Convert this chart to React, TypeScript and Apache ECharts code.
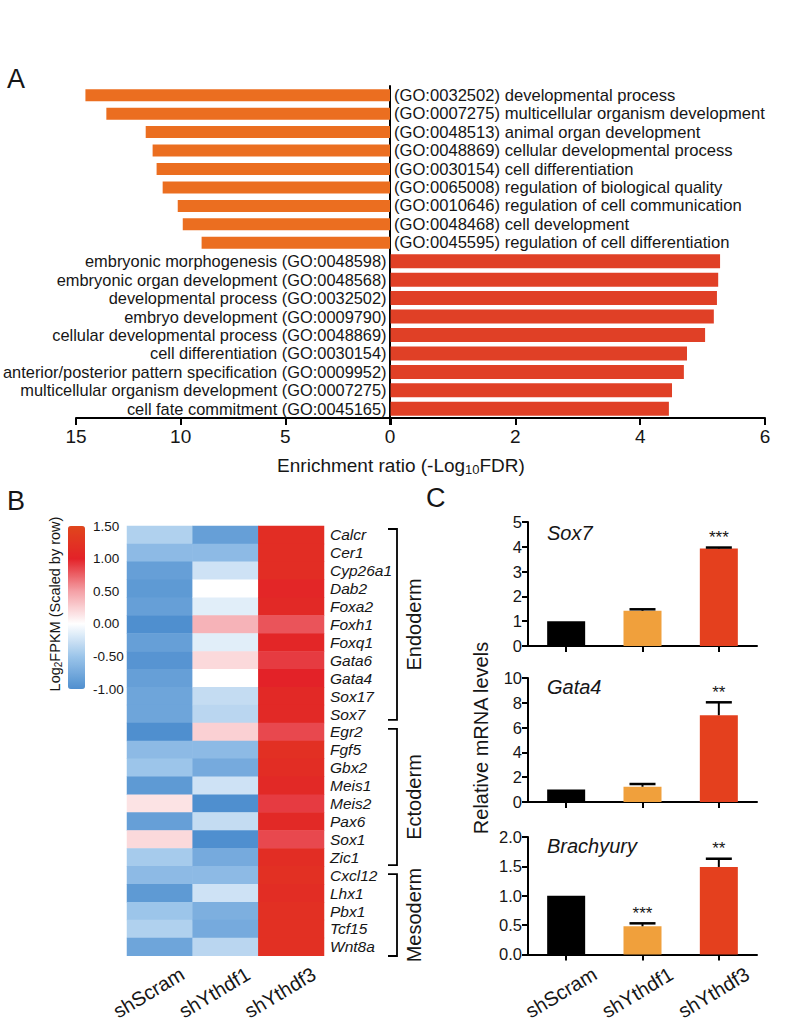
import React, { useEffect, useRef } from 'react';
import * as echarts from 'echarts';

const FONT = '"Liberation Sans", Arial, Helvetica, sans-serif';
const INK = '#161616';

// ---------- Panel A : GO enrichment ----------
const orangeTerms = [
  '(GO:0032502) developmental process',
  '(GO:0007275) multicellular organism development',
  '(GO:0048513) animal organ development',
  '(GO:0048869) cellular developmental process',
  '(GO:0030154) cell differentiation',
  '(GO:0065008) regulation of biological quality',
  '(GO:0010646) regulation of cell communication',
  '(GO:0048468) cell development',
  '(GO:0045595) regulation of cell differentiation',
];
const orangeValues = [14.55, 13.55, 11.67, 11.34, 11.15, 10.86, 10.14, 9.9, 9.0];
const redTerms = [
  'embryonic morphogenesis (GO:0048598)',
  'embryonic organ development (GO:0048568)',
  'developmental process (GO:0032502)',
  'embryo development (GO:0009790)',
  'cellular developmental process (GO:0048869)',
  'cell differentiation (GO:0030154)',
  'anterior/posterior pattern specification (GO:0009952)',
  'multicellular organism development (GO:0007275)',
  'cell fate commitment (GO:0045165)',
];
const redValues = [5.28, 5.25, 5.23, 5.18, 5.04, 4.75, 4.7, 4.51, 4.46];

// ---------- Panel B : heatmap ----------
const samples = ['shScram', 'shYthdf1', 'shYthdf3'];
const genes = [
  'Calcr', 'Cer1', 'Cyp26a1', 'Dab2', 'Foxa2', 'Foxh1', 'Foxq1', 'Gata6', 'Gata4', 'Sox17', 'Sox7',
  'Egr2', 'Fgf5', 'Gbx2', 'Meis1', 'Meis2', 'Pax6', 'Sox1', 'Zic1',
  'Cxcl12', 'Lhx1', 'Pbx1', 'Tcf15', 'Wnt8a',
];
const shScramZ = [-0.4, -0.6, -0.85, -0.9, -0.85, -1.0, -0.85, -0.95, -0.85, -0.8, -0.8,
  -1.0, -0.6, -0.5, -0.9, 0.15, -0.85, 0.2, -0.45,
  -0.6, -0.9, -0.5, -0.4, -0.8];
const shYthdf1Z = [-0.85, -0.6, -0.25, 0.0, -0.15, 0.4, -0.15, 0.2, 0.0, -0.3, -0.35,
  0.25, -0.6, -0.75, -0.25, -1.0, -0.3, -1.0, -0.75,
  -0.6, -0.25, -0.7, -0.75, -0.35];
const shYthdf3Z = [1.15, 1.15, 1.15, 1.05, 1.1, 0.8, 1.05, 0.9, 1.0, 1.1, 1.1,
  0.85, 1.2, 1.15, 1.1, 0.9, 1.1, 0.85, 1.15,
  1.2, 1.15, 1.2, 1.2, 1.2];
const legendTicks = [1.5, 1.0, 0.5, 0.0, -0.5, -1.0];
const germLayers = [
  { name: 'Endoderm', first: 0, last: 10 },
  { name: 'Ectoderm', first: 11, last: 18 },
  { name: 'Mesoderm', first: 19, last: 23 },
];

// ---------- Panel C : qPCR ----------
const barColors = ['#000000', '#F0A03C', '#E4401E'];
const sox7Mean = [1.0, 1.42, 3.93];
const sox7Upper = [1.0, 1.48, 3.97];
const sox7Stars = ['', '', '***'];
const gata4Mean = [1.0, 1.23, 7.0];
const gata4Upper = [1.0, 1.45, 8.04];
const gata4Stars = ['', '', '**'];
const brachMean = [1.0, 0.48, 1.49];
const brachUpper = [1.0, 0.53, 1.63];
const brachStars = ['', '***', '**'];
const qpcrGenes = ['Sox7', 'Gata4', 'Brachyury'];
const qpcrMax = [5, 10, 2];
const qpcrInterval = [1, 2, 0.5];

// layout
const HM = { left: 127, top: 526, width: 197, height: 436 };
const LEG = { left: 68, top: 526, w: 17, h: 163 };
const C_GRIDS = [
  { left: 528, top: 522, width: 229, height: 124 },
  { left: 528, top: 678, width: 229, height: 124 },
  { left: 528, top: 837, width: 229, height: 121 },
];

export default function App() {
  const ref = useRef<HTMLDivElement>(null);

  useEffect(() => {
    document.body.style.margin = '0';
    const chart = echarts.init(ref.current!, null, { renderer: 'svg' });

    const aCats = orangeTerms.concat(redTerms);
    const blank9 = orangeTerms.map(() => '-');

    const hmData: any[] = [];
    const cols = [shScramZ, shYthdf1Z, shYthdf3Z];
    cols.forEach((col, x) => col.forEach((v, y) => hmData.push([x, y, v])));

    const means = [sox7Mean, gata4Mean, brachMean];
    const uppers = [sox7Upper, gata4Upper, brachUpper];
    const stars = [sox7Stars, gata4Stars, brachStars];

    const axisBlack = { show: true, lineStyle: { color: '#000', width: 2 } };
    const tickBlack = (len: number) => ({ show: true, length: len, lineStyle: { color: '#000', width: 2 } });

    const xAxis: any[] = [
      {
        gridIndex: 0, type: 'value', inverse: true, min: 0, max: 15, interval: 5,
        axisLine: axisBlack, axisTick: tickBlack(7), splitLine: { show: false },
        axisLabel: { fontSize: 19, color: INK, margin: 9, fontFamily: FONT },
      },
      {
        gridIndex: 1, type: 'value', min: 0, max: 6, interval: 2,
        axisLine: axisBlack, axisTick: tickBlack(7), splitLine: { show: false },
        axisLabel: { fontSize: 19, color: INK, margin: 9, fontFamily: FONT, formatter: (v: number) => (v === 0 ? '' : String(v)) },
      },
      {
        gridIndex: 2, type: 'category', data: samples, position: 'bottom',
        axisLine: { show: false }, axisTick: { show: false },
        axisLabel: { interval: 0, rotate: 31, align: 'center', verticalAlign: 'middle', margin: 30, fontSize: 20, color: INK, fontFamily: FONT, padding: [0, 26, 0, 0] },
      },
    ];
    const yAxis: any[] = [
      {
        gridIndex: 0, type: 'category', inverse: true, position: 'right', data: aCats,
        axisLine: axisBlack, axisTick: { show: false },
        axisLabel: {
          interval: 0, fontSize: 16.6, color: INK, margin: 4, fontFamily: FONT,
          formatter: (v: string, i: number) => (i < orangeTerms.length ? v : ''),
        },
      },
      {
        gridIndex: 1, type: 'category', inverse: true, position: 'left', data: aCats,
        axisLine: { show: false }, axisTick: { show: false },
        axisLabel: {
          interval: 0, fontSize: 16.4, color: INK, margin: 4, fontFamily: FONT,
          formatter: (v: string, i: number) => (i >= orangeTerms.length ? v : ''),
        },
      },
      {
        gridIndex: 2, type: 'category', inverse: true, position: 'right', data: genes,
        axisLine: { show: false }, axisTick: { show: false },
        axisLabel: { interval: 0, fontSize: 15.5, fontStyle: 'italic', color: INK, margin: 6, fontFamily: FONT },
      },
    ];

    const series: any[] = [
      { type: 'bar', xAxisIndex: 0, yAxisIndex: 0, data: orangeValues.concat(blank9 as any), barWidth: 12, itemStyle: { color: '#EB6E20' } },
      { type: 'bar', xAxisIndex: 1, yAxisIndex: 1, data: (blank9 as any[]).concat(redValues), barWidth: 14, itemStyle: { color: '#E04026' } },
      { type: 'heatmap', xAxisIndex: 2, yAxisIndex: 2, data: hmData, itemStyle: { borderWidth: 0 } },
    ];

    C_GRIDS.forEach((g, k) => {
      const gi = 3 + k;
      xAxis.push({
        gridIndex: gi, type: 'category', data: samples,
        axisLine: axisBlack, axisTick: { ...tickBlack(6), alignWithLabel: true },
        axisLabel: k === 2
          ? { interval: 0, rotate: 31, align: 'center', verticalAlign: 'middle', margin: 35, fontSize: 20, color: INK, fontFamily: FONT, padding: [0, 12, 0, 0] }
          : { show: false },
      });
      yAxis.push({
        gridIndex: gi, type: 'value', min: 0, max: qpcrMax[k], interval: qpcrInterval[k],
        axisLine: axisBlack, axisTick: tickBlack(6), splitLine: { show: false },
        axisLabel: {
          fontSize: 16.5, color: INK, margin: 6, fontFamily: FONT,
          formatter: (v: number) => (k === 2 ? v.toFixed(1) : String(v)),
        },
      });
      series.push({
        type: 'bar', xAxisIndex: gi, yAxisIndex: gi, barWidth: 38,
        data: means[k].map((m, i) => ({ value: m, itemStyle: { color: barColors[i] } })),
      });
      const st = stars[k];
      series.push({
        type: 'custom', xAxisIndex: gi, yAxisIndex: gi, z: 5,
        data: means[k].map((m, i) => [i, m, uppers[k][i]]),
        renderItem: (params: any, api: any) => {
          const i = api.value(0);
          const m = api.value(1);
          const u = api.value(2);
          const p0 = api.coord([i, m]);
          const p1 = api.coord([i, u]);
          const children: any[] = [];
          if (u > m) {
            children.push({ type: 'line', shape: { x1: p0[0], y1: p0[1], x2: p1[0], y2: p1[1] }, style: { stroke: '#000', lineWidth: 2 } });
            children.push({ type: 'line', shape: { x1: p1[0] - 13, y1: p1[1], x2: p1[0] + 13, y2: p1[1] }, style: { stroke: '#000', lineWidth: 2.5 } });
          }
          const s = st[params.dataIndex];
          if (s) {
            children.push({
              type: 'text', x: p1[0], y: p1[1] - 10,
              style: { text: s, fontSize: 17, fill: INK, align: 'center', verticalAlign: 'middle', fontFamily: FONT },
            });
          }
          return { type: 'group', children };
        },
      });
    });

    const graphic: any[] = [];
    const letter = (t: string, x: number, y: number) => ({
      type: 'text', x, y, style: { text: t, fontSize: 27, fill: INK, fontFamily: FONT, align: 'left', verticalAlign: 'middle' },
    });
    graphic.push(letter('A', 7, 79), letter('B', 7, 501), letter('C', 426, 498));

    graphic.push({
      type: 'text', x: 401, y: 465,
      style: {
        text: 'Enrichment ratio (-Log{sub|10}FDR)', fontSize: 19, fill: INK, fontFamily: FONT,
        align: 'center', verticalAlign: 'middle',
        rich: { sub: { fontSize: 13, padding: [9, 0, 0, 0], fontFamily: FONT, fill: INK } },
      },
    });

    // colour legend labels
    legendTicks.forEach((v) => {
      graphic.push({
        type: 'text', x: 93, y: LEG.top + ((1.5 - v) / 2.5) * LEG.h,
        style: { text: v.toFixed(2), fontSize: 13.5, fill: INK, fontFamily: FONT, align: 'left', verticalAlign: 'middle' },
      });
    });
    graphic.push({
      type: 'text', x: 55, y: 604, rotation: Math.PI / 2,
      style: {
        text: 'Log{sub|2}FPKM (Scaled by row)', fontSize: 14.5, fill: INK, fontFamily: FONT,
        align: 'center', verticalAlign: 'middle',
        rich: { sub: { fontSize: 10, padding: [6, 0, 0, 0], fontFamily: FONT, fill: INK } },
      },
    });

    // germ layer brackets
    const rowH = HM.height / genes.length;
    germLayers.forEach((g) => {
      const yT = HM.top + g.first * rowH + 3;
      const yB = HM.top + (g.last + 1) * rowH - 6;
      const xv = 397;
      graphic.push({
        type: 'polyline',
        shape: { points: [[388, yT], [xv, yT], [xv, yB], [388, yB]] },
        style: { stroke: '#000', lineWidth: 1.8, fill: null },
      });
      graphic.push({
        type: 'text', x: 414, y: (yT + yB) / 2, rotation: Math.PI / 2,
        style: { text: g.name, fontSize: 20, fill: INK, fontFamily: FONT, align: 'center', verticalAlign: 'middle' },
      });
    });

    // panel C titles
    graphic.push({
      type: 'text', x: 481, y: 738, rotation: Math.PI / 2,
      style: { text: 'Relative mRNA levels', fontSize: 20, fill: INK, fontFamily: FONT, align: 'center', verticalAlign: 'middle' },
    });
    const geneTitleY = [533, 687, 846];
    qpcrGenes.forEach((g, k) => {
      graphic.push({
        type: 'text', x: 547, y: geneTitleY[k],
        style: { text: g, fontSize: 20, fontStyle: 'italic', fill: INK, fontFamily: FONT, align: 'left', verticalAlign: 'middle' },
      });
    });

    chart.setOption({
      animation: false,
      textStyle: { fontFamily: FONT },
      grid: [
        { left: 76, top: 86, width: 314, height: 332 },
        { left: 390, top: 86, width: 375, height: 332 },
        { left: HM.left, top: HM.top, width: HM.width, height: HM.height },
        ...C_GRIDS,
      ],
      xAxis,
      yAxis,
      visualMap: {
        type: 'continuous', seriesIndex: 2, min: -1, max: 1.5, orient: 'vertical',
        left: LEG.left, top: LEG.top, itemWidth: LEG.w, itemHeight: LEG.h, padding: 0,
        calculable: false, text: ['', ''], showLabel: false,
        inRange: { color: ['#4F8FCF', '#9CC5EA', '#FFFFFF', '#F4A0A6', '#E32228', '#E0461C'] },
      },
      series,
      graphic,
    });

    return () => chart.dispose();
  }, []);

  return <div ref={ref} style={{ width: 800, height: 1023 }} />;
}
